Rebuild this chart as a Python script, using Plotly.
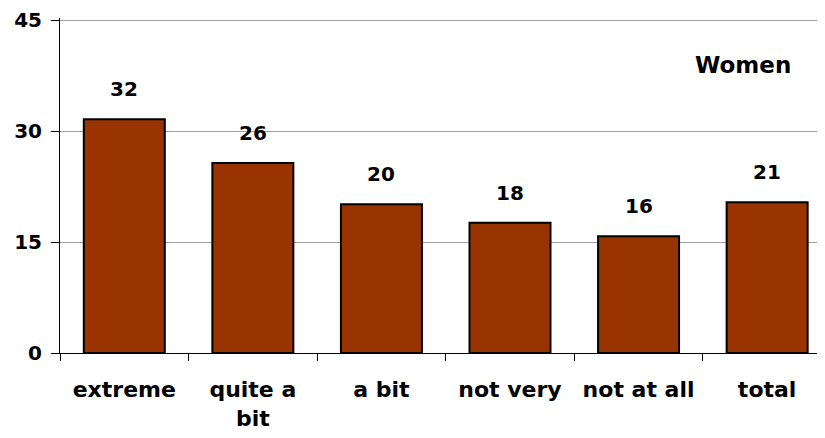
import plotly.graph_objects as go

# Data
categories = ["extreme", "quite a bit", "a bit", "not very", "not at all", "total"]
tick_labels = ["extreme", "quite a<br>bit", "a bit", "not very", "not at all", "total"]
values = [31.6, 25.7, 20.1, 17.6, 15.8, 20.4]
value_labels = ["32", "26", "20", "18", "16", "21"]
y_ticks = [0, 15, 30, 45]

FONT = "'DejaVu Sans', sans-serif"

fig = go.Figure()

fig.add_trace(go.Bar(
    x=categories,
    y=values,
    width=0.63,
    marker=dict(color="#993300", line=dict(color="black", width=2)),
    hoverinfo="skip",
))

# value labels above the bars
for c, v, t in zip(categories, values, value_labels):
    fig.add_annotation(x=c, y=v, text=t, showarrow=False, yshift=30,
                       font=dict(family=FONT, size=20, color="black", weight="bold"))

fig.add_annotation(x=0.893, y=0.86, xref="paper", yref="paper", text="Women",
                   showarrow=False, xanchor="center", yanchor="middle",
                   font=dict(family=FONT, size=23, color="black", weight="bold"))

# page body has an 8px margin, so the figure is shrunk by that amount
fig.update_layout(
    width=817, height=430,
    margin=dict(l=52, r=0, t=7, b=85),
    plot_bgcolor="white",
    paper_bgcolor="white",
    showlegend=False,
    xaxis=dict(
        range=[-0.5, 5.45],
        tickmode="array",
        tickvals=categories,
        ticktext=tick_labels,
        tickson="boundaries",
        ticks="outside",
        ticklen=7,
        tickcolor="black",
        ticklabelstandoff=17,
        showline=True,
        linecolor="black",
        linewidth=1,
        showgrid=False,
        tickfont=dict(family=FONT, size=22, color="black", weight="bold"),
    ),
    yaxis=dict(
        range=[0, 45.3],
        tickvals=y_ticks,
        ticks="outside",
        ticklen=8,
        tickcolor="black",
        ticklabelstandoff=5,
        ticklabeloverflow="allow",
        showline=True,
        linecolor="black",
        linewidth=1,
        showgrid=True,
        gridcolor="#a0a0a0",
        gridwidth=1,
        zeroline=False,
        tickfont=dict(family=FONT, size=20, color="black", weight="bold"),
    ),
)

fig.write_html("out.html")
